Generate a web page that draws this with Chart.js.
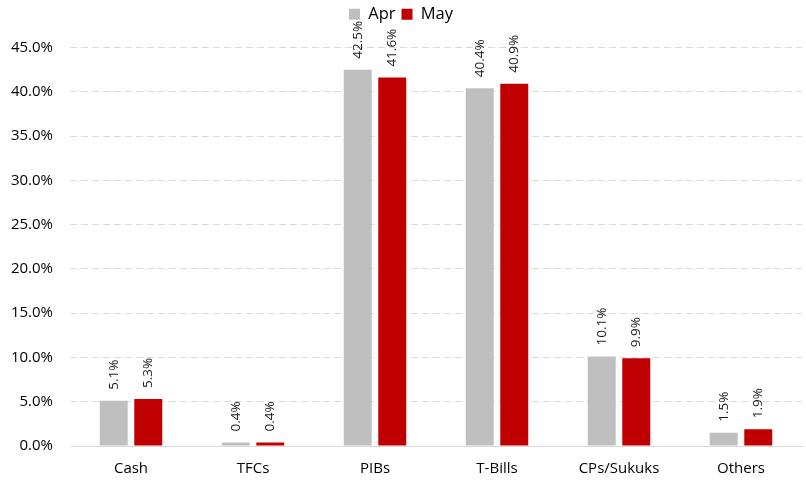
<!DOCTYPE html>
<html>
<head>
<meta charset="utf-8">
<script src="https://cdn.jsdelivr.net/npm/chart.js@4"></script>
<style>
  html, body { margin: 0; padding: 0; background: #fff; }
</style>
</head>
<body>
<canvas id="chart" width="806" height="481"></canvas>
<script>
  // Data
  const categories = ['Cash', 'TFCs', 'PIBs', 'T-Bills', 'CPs/Sukuks', 'Others'];
  const aprValues = [5.1, 0.4, 42.5, 40.4, 10.1, 1.5];
  const mayValues = [5.3, 0.4, 41.6, 40.9, 9.9, 1.9];
  const seriesNames = ['Apr', 'May'];

  const fontFamily = "'Open Sans', 'Liberation Sans', sans-serif";

  // draws the value labels rotated above each bar
  const barLabels = {
    id: 'barLabels',
    afterDatasetsDraw(chart) {
      const ctx = chart.ctx;
      ctx.save();
      ctx.font = '13.5px ' + fontFamily;
      ctx.fillStyle = '#1a1a1a';
      ctx.textAlign = 'left';
      ctx.textBaseline = 'middle';
      chart.data.datasets.forEach((ds, i) => {
        const meta = chart.getDatasetMeta(i);
        meta.data.forEach((bar, j) => {
          ctx.save();
          ctx.translate(bar.x, bar.y - 11);
          ctx.rotate(-Math.PI / 2);
          ctx.fillText(ds.data[j].toFixed(1) + '%', 0, 0);
          ctx.restore();
        });
      });
      ctx.restore();
    }
  };

  // extra room under the legend
  const legendSpace = {
    id: 'legendSpace',
    beforeInit(chart) {
      const fit = chart.legend.fit;
      chart.legend.fit = function () {
        fit.bind(chart.legend)();
        this.height += 15;
      };
    }
  };

  new Chart(document.querySelector('#chart'), {
    type: 'bar',
    data: {
      labels: categories,
      datasets: [
        {
          label: seriesNames[0],
          data: aprValues,
          backgroundColor: '#bfbfbf',
          barPercentage: 0.81,
          categoryPercentage: 0.566
        },
        {
          label: seriesNames[1],
          data: mayValues,
          backgroundColor: '#c00000',
          barPercentage: 0.81,
          categoryPercentage: 0.566
        }
      ]
    },
    options: {
      responsive: false,
      animation: false,
      devicePixelRatio: 1,
      layout: { padding: { left: 0, right: 4, top: 0, bottom: 0 } },
      plugins: {
        legend: {
          position: 'top',
          labels: {
            boxWidth: 11,
            boxHeight: 11,
            padding: 6,
            color: '#000',
            font: { size: 16.5, family: fontFamily }
          }
        },
        tooltip: { enabled: false }
      },
      scales: {
        x: {
          afterFit: (scale) => { scale.height = 35; },
          grid: { display: false, drawTicks: false },
          border: { color: '#d9d9d9', width: 1 },
          ticks: {
            color: '#000',
            padding: 14,
            maxRotation: 0,
            font: { size: 15, family: fontFamily }
          }
        },
        y: {
          min: 0,
          max: 45,
          afterFit: (scale) => { scale.width = 70; },
          ticks: {
            stepSize: 5,
            color: '#000',
            padding: 17,
            font: { size: 15, family: fontFamily },
            callback: (v) => v.toFixed(1) + '%'
          },
          grid: { color: '#d9d9d9', drawTicks: false },
          border: { display: false, dash: [7, 4] }
        }
      }
    },
    plugins: [barLabels, legendSpace]
  });
</script>
</body>
</html>
